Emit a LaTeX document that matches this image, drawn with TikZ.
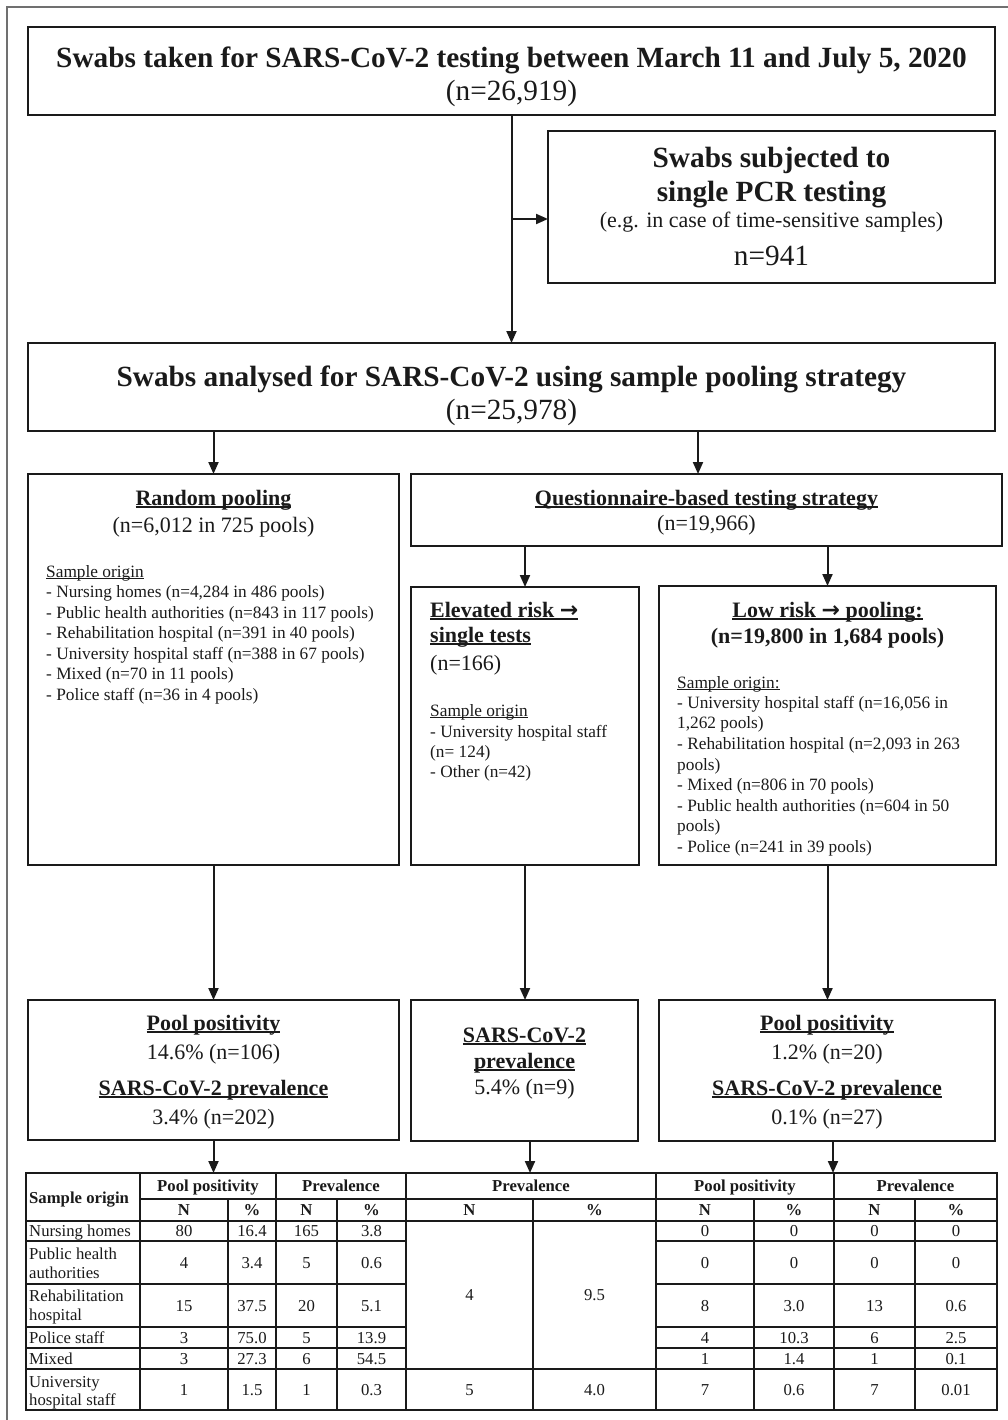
\documentclass[tikz,border=0pt]{standalone}
\usepackage{fontspec}
\setmainfont{Liberation Serif}
\newfontfamily\djv{DejaVu Sans}
\usetikzlibrary{arrows.meta}
\definecolor{ink}{HTML}{1A1A1A}
\definecolor{frm}{HTML}{707070}
\newcommand\uln[1]{\setbox0\hbox{#1}\rlap{\rule[-0.13em]{\wd0}{0.07em}}\box0}
\newcommand\fA{\fontsize{29.3}{34}\selectfont}
\newcommand\fB{\fontsize{22}{26}\selectfont}
\newcommand\fC{\fontsize{17.3}{20.6}\selectfont}
\newcommand\fT{\fontsize{16.7}{19}\selectfont}
\newcommand\rarr{{\djv\bfseries →}}
\tikzset{
 box/.style={draw=ink, line width=2pt, inner sep=0pt, outer sep=0pt, anchor=north west},
 arr/.style={draw=ink, line width=2pt, -{Triangle[length=12pt,width=10pt]}},
 tc/.style={inner sep=0pt, anchor=base, text=ink},
 tl/.style={inner sep=0pt, anchor=base west, text=ink},
 gl/.style={draw=ink, line width=1.5pt},
 gk/.style={draw=ink, line width=2.6pt},
}
\begin{document}
\begin{tikzpicture}[x=1pt,y=-1pt]
\useasboundingbox (0,0) rectangle (1008,1420);
\draw[frm, line width=1.5pt] (7,1420) -- (7,7) -- (1008,7);

% boxes
\node[box, minimum width=967pt, minimum height=88pt] (b1) at (28,27) {};
\node[box, minimum width=447pt, minimum height=152pt] (b2) at (548,131) {};
\node[box, minimum width=967pt, minimum height=88pt] (b3) at (28,343) {};
\node[box, minimum width=371pt, minimum height=391pt] (b4) at (28,474) {};
\node[box, minimum width=591pt, minimum height=72pt] (b5) at (411,474) {};
\node[box, minimum width=228pt, minimum height=278pt] (b6) at (411,587) {};
\node[box, minimum width=337pt, minimum height=279pt] (b7) at (659,586) {};
\node[box, minimum width=371pt, minimum height=140pt] (b8) at (28,1000) {};
\node[box, minimum width=227pt, minimum height=141pt] (b9) at (411,1000) {};
\node[box, minimum width=336pt, minimum height=141pt] (b10) at (659,1000) {};
\node[box, line width=2.8pt, minimum width=971pt, minimum height=237pt] (tbl) at (26,1173) {};

% texts box1
\node[tc] (t1a) at (511.5,68) {\fA\bfseries Swabs taken for SARS-CoV-2 testing between March 11 and July 5, 2020};
\node[tc] (t1b) at (511.5,101) {\fA (n=26,919)};
% box2
\node[tc] (t2a) at (771.5,168) {\fA\bfseries Swabs subjected to};
\node[tc] (t2b) at (771.5,202) {\fA\bfseries single PCR testing};
\node[tc] (t2c) at (771.5,228) {\fB (e.g. in case of time-sensitive samples)};
\node[tc] (t2d) at (771.5,266) {\fA n=941};
% box3
\node[tc] (t3a) at (511.5,386) {\fA\bfseries Swabs analysed for SARS-CoV-2 using sample pooling strategy};
\node[tc] (t3b) at (511.5,419) {\fA (n=25,978)};
% box4
\node[tc] (t4a) at (213.5,505) {\fB\bfseries\uln{Random pooling}};
\node[tc] (t4b) at (213.5,532) {\fB (n=6,012 in 725 pools)};
\node[tl] (t4c) at (46,577) {\fC\uln{Sample origin}};
\foreach \t [count=\i] in {{- Nursing homes (n=4,284 in 486 pools)},{- Public health authorities (n=843 in 117 pools)},{- Rehabilitation hospital (n=391 in 40 pools)},{- University hospital staff (n=388 in 67 pools)},{- Mixed (n=70 in 11 pools)},{- Police staff (n=36 in 4 pools)}}
  \node[tl] (t4l\i) at (46,{576.8+20.6*\i}) {\fC\t};
% box5
\node[tc] (t5a) at (706.5,505) {\fB\bfseries\uln{Questionnaire-based testing strategy}};
\node[tc] (t5b) at (706.5,530) {\fB (n=19,966)};
% box6
\node[tl] (t6a) at (430,617) {\fB\bfseries\uln{Elevated risk \rarr}};
\node[tl] (t6b) at (430,642) {\fB\bfseries\uln{single tests}};
\node[tl] (t6c) at (430,670) {\fB (n=166)};
\node[tl] (t6d) at (430,716) {\fC\uln{Sample origin}};
\node[tl] (t6e) at (430,737) {\fC - University hospital staff};
\node[tl] (t6f) at (430,757) {\fC (n= 124)};
\node[tl] (t6g) at (430,777) {\fC - Other (n=42)};
% box7
\node[tc] (t7a) at (827.5,617) {\fB\bfseries\uln{Low risk \rarr{} pooling:}};
\node[tc] (t7b) at (827.5,643) {\fB\bfseries (n=19,800 in 1,684 pools)};
\node[tl] (t7c) at (677,688) {\fC\uln{Sample origin:}};
\foreach \t [count=\i] in {{- University hospital staff (n=16,056 in},{1,262 pools)},{- Rehabilitation hospital (n=2,093 in 263},{pools)},{- Mixed (n=806 in 70 pools)},{- Public health authorities (n=604 in 50},{pools)},{- Police (n=241 in 39 pools)}}
  \node[tl] (t7l\i) at (677,{687.6+20.6*\i}) {\fC\t};
% box8
\node[tc] (t8a) at (213.5,1030) {\fB\bfseries\uln{Pool positivity}};
\node[tc] (t8b) at (213.5,1059) {\fB 14.6\% (n=106)};
\node[tc] (t8c) at (213.5,1095) {\fB\bfseries\uln{SARS-CoV-2 prevalence}};
\node[tc] (t8d) at (213.5,1124) {\fB 3.4\% (n=202)};
% box9
\node[tc] (t9a) at (524.5,1042) {\fB\bfseries\uln{SARS-CoV-2}};
\node[tc] (t9b) at (524.5,1068) {\fB\bfseries\uln{prevalence}};
\node[tc] (t9c) at (524.5,1094) {\fB 5.4\% (n=9)};
% box10
\node[tc] (t10a) at (827,1030) {\fB\bfseries\uln{Pool positivity}};
\node[tc] (t10b) at (827,1059) {\fB 1.2\% (n=20)};
\node[tc] (t10c) at (827,1095) {\fB\bfseries\uln{SARS-CoV-2 prevalence}};
\node[tc] (t10d) at (827,1124) {\fB 0.1\% (n=27)};

% connectors
\draw[arr] (b1.south) -- (b3.north);
\coordinate (b2in) at (548,219);
\draw[arr] (b2in -| b1.south) -- (b2in);
\draw[arr] (b3.south -| b4.north) -- (b4.north);
\coordinate (b5in) at (698,474);
\draw[arr] (b3.south -| b5in) -- (b5in);
\draw[arr] (b5.south -| b6.north) -- (b6.north);
\draw[arr] (b5.south -| b7.north) -- (b7.north);
\draw[arr] (b4.south) -- (b4.south |- b8.north);
\draw[arr] (b6.south) -- (b6.south |- b9.north);
\draw[arr] (b7.south) -- (b7.south |- b10.north);
\coordinate (tin9) at (530,1173);
\coordinate (tin10) at (833,1173);
\draw[arr] (b8.south) -- (b8.south |- tbl.north);
\draw[arr] (b9.south -| tin9) -- (tin9);
\draw[arr] (b10.south -| tin10) -- (tin10);

% table grid
\foreach \x in {140,406,656} \draw[gk] (\x,1173) -- (\x,1410);
\foreach \x in {276,834} \draw[gl, line width=1.9pt] (\x,1173) -- (\x,1410);
\foreach \x in {228,337,533,754,915} \draw[gl] (\x,1199) -- (\x,1410);
\draw[gl, line width=2.2pt] (140,1199) -- (997,1199);
\draw[gl, line width=2.2pt] (26,1221) -- (997,1221);
\foreach \y in {1241,1284,1327,1348} {\draw[gl, line width=1.8pt] (26,\y) -- (406,\y); \draw[gl, line width=1.4pt] (656,\y) -- (997,\y);}
\draw[gl, line width=1.8pt] (26,1369) -- (997,1369);

% table header
\node[tl] (hso) at (29,1203) {\fT\bfseries Sample origin};
\node[tc] (h1) at (208,1191) {\fT\bfseries Pool positivity};
\node[tc] (h2) at (341,1191) {\fT\bfseries Prevalence};
\node[tc] (h3) at (531,1191) {\fT\bfseries Prevalence};
\node[tc] (h4) at (745,1191) {\fT\bfseries Pool positivity};
\node[tc] (h5) at (915.5,1191) {\fT\bfseries Prevalence};
\foreach \x/\s [count=\i] in {184/N,252/\%,306.5/N,371.5/\%,469.5/N,594.5/\%,705/N,794/\%,874.5/N,956/\%}
  \node[tc] (hs\i) at (\x,1215) {\fT\bfseries \s};

% row labels
\node[tl] (ra1) at (29,1236.5) {\fT Nursing homes};
\node[tl] (ra2) at (29,1259) {\fT Public health};
\node[tl] (rb2) at (29,1278) {\fT authorities};
\node[tl] (ra3) at (29,1301) {\fT Rehabilitation};
\node[tl] (rb3) at (29,1320) {\fT hospital};
\node[tl] (ra4) at (29,1343) {\fT Police staff};
\node[tl] (ra5) at (29,1364) {\fT Mixed};
\node[tl] (ra6) at (29,1387) {\fT University};
\node[tl] (rb6) at (29,1405) {\fT hospital staff};

% left values
\foreach \yc/\a/\b/\c/\d [count=\i] in {1231/80/16.4/165/3.8,1262.5/4/3.4/5/0.6,1305.5/15/37.5/20/5.1,1337.5/3/75.0/5/13.9,1358.5/3/27.3/6/54.5,1389.5/1/1.5/1/0.3}{
  \node[tc] (la\i) at (184,{\yc+5.5}) {\fT \a};
  \node[tc] (lb\i) at (252,{\yc+5.5}) {\fT \b};
  \node[tc] (lc\i) at (306.5,{\yc+5.5}) {\fT \c};
  \node[tc] (ld\i) at (371.5,{\yc+5.5}) {\fT \d};
}
% middle values
\node[tc] (ma1) at (469.5,1300) {\fT 4};
\node[tc] (mb1) at (594.5,1300) {\fT 9.5};
\node[tc] (ma2) at (469.5,1395) {\fT 5};
\node[tc] (mb2) at (594.5,1395) {\fT 4.0};
% right values
\foreach \yc/\a/\b/\c/\d [count=\i] in {1231/0/0/0/0,1262.5/0/0/0/0,1305.5/8/3.0/13/0.6,1337.5/4/10.3/6/2.5,1358.5/1/1.4/1/0.1,1389.5/7/0.6/7/0.01}{
  \node[tc] (pa\i) at (705,{\yc+5.5}) {\fT \a};
  \node[tc] (pb\i) at (794,{\yc+5.5}) {\fT \b};
  \node[tc] (pc\i) at (874.5,{\yc+5.5}) {\fT \c};
  \node[tc] (pd\i) at (956,{\yc+5.5}) {\fT \d};
}
\end{tikzpicture}
\end{document}
